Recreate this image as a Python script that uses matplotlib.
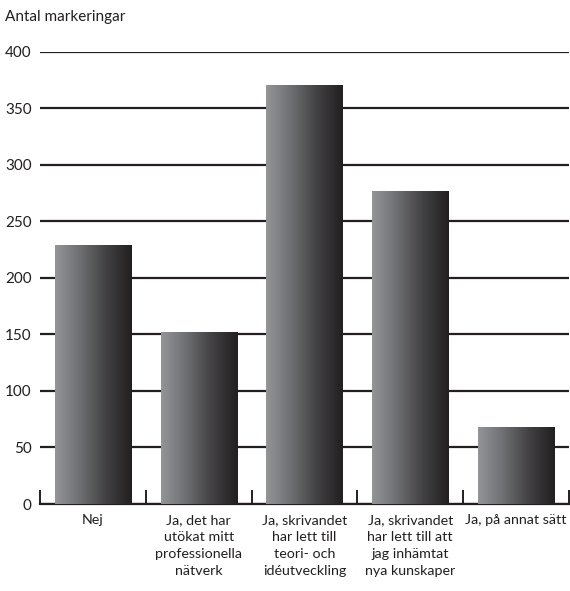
import numpy as np
import matplotlib.pyplot as plt

# svarsalternativ och antal markeringar
categories = ['Nej',
              'Ja, det har\nutökat mitt\nprofessionella\nnätverk',
              'Ja, skrivandet\nhar lett till\nteori- och\nidéutveckling',
              'Ja, skrivandet\nhar lett till att\njag inhämtat\nnya kunskaper',
              'Ja, på annat sätt']
counts = [229, 152, 371, 277, 68]
yticks = [0, 50, 100, 150, 200, 250, 300, 350, 400]

plt.rcParams['font.family'] = ['Lato', 'DejaVu Sans']
ink = '#231f20'

fig = plt.figure(figsize=(5.7, 5.91), dpi=100)
ax = fig.add_axes([0.0702, 0.1472, 0.928, 0.765])

x = np.arange(len(categories))
bars = ax.bar(x, counts, width=0.72, color='none', zorder=3)

# horisontell gradient i staplarna
grad = np.linspace(0, 1, 256).reshape(1, -1)
cmap = plt.matplotlib.colors.LinearSegmentedColormap.from_list('g', ['#939598', '#6d6e71', '#414042', '#231f20'])
for b in bars:
    x0, w, h = b.get_x(), b.get_width(), b.get_height()
    im = ax.imshow(grad, cmap=cmap, aspect='auto', extent=[x0, x0 + w, 0, h], zorder=3)
    im.set_clip_path(b)

ax.set_xlim(-0.5, len(categories) - 0.5)
ax.set_ylim(0, 400)
ax.set_yticks(yticks)
ax.yaxis.grid(True, color=ink, linewidth=1.6, zorder=1)
ax.set_axisbelow(True)
for s in ['left', 'right', 'top']:
    ax.spines[s].set_visible(False)
ax.spines['bottom'].set_color(ink)
ax.spines['bottom'].set_linewidth(1.6)
ax.tick_params(axis='y', length=0, pad=6, labelsize=11, labelcolor=ink)

ax.set_xticks(x)
ax.set_xticklabels(categories, fontsize=10.3, color=ink, linespacing=1.5)
ax.tick_params(axis='x', which='major', length=0, pad=7)
ax.set_xticks(np.arange(-0.5, len(categories), 1), minor=True)
ax.tick_params(axis='x', which='minor', direction='in', length=10, width=1.4, color=ink)

fig.text(0.009, 0.971, 'Antal markeringar', fontsize=11, color=ink, va='center')

fig.savefig('out.png', dpi=100)
